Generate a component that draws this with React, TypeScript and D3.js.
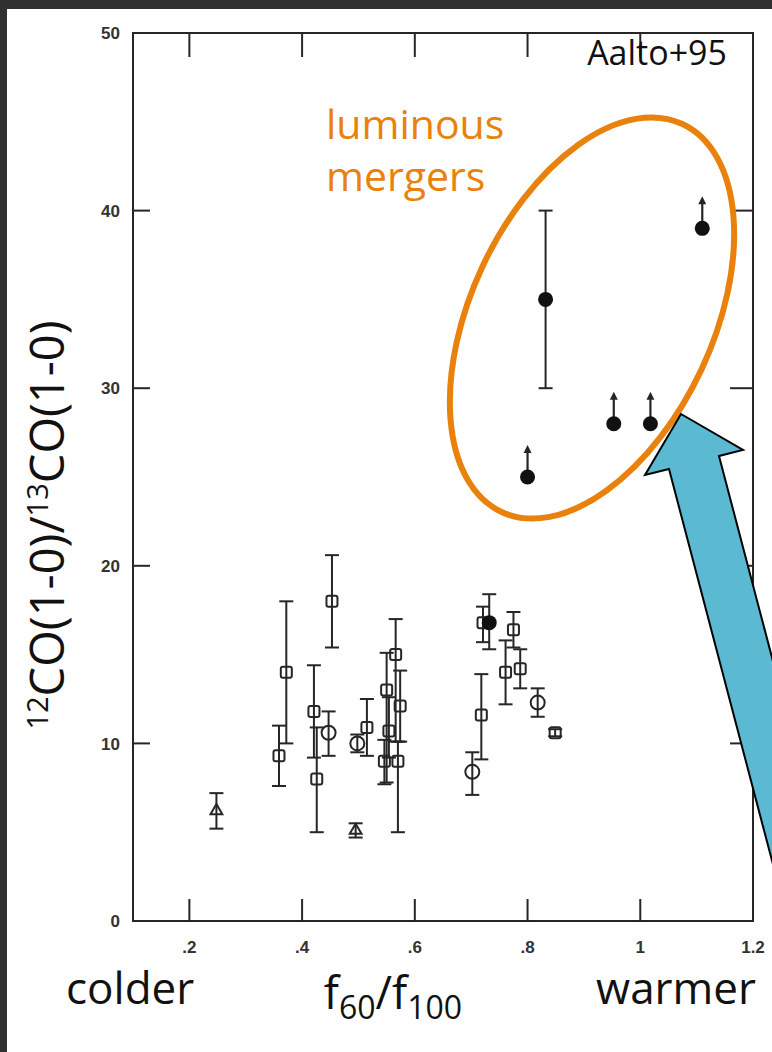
import React from "react";
import * as d3 from "d3";

// f60/f100 vs 12CO/13CO (Aalto+95)
const squareF = [0.359, 0.372, 0.421, 0.426, 0.453, 0.515, 0.55, 0.554, 0.546, 0.566, 0.574, 0.57, 0.718, 0.721, 0.761, 0.775, 0.787, 0.849];
const squareR = [9.3, 14.0, 11.8, 8.0, 18.0, 10.9, 13.0, 10.7, 9.0, 15.0, 12.1, 9.0, 11.6, 16.8, 14.0, 16.4, 14.2, 10.6];
const squareLo = [7.6, 10.0, 9.2, 5.0, 15.4, 9.3, 7.8, 9.2, 7.7, 10.1, 10.1, 5.0, 9.1, 15.7, 12.2, 15.4, 13.1, 10.4];
const squareHi = [11.0, 18.0, 14.4, 10.9, 20.6, 12.5, 15.1, 12.6, 10.2, 17.0, 14.1, 10.1, 13.9, 17.7, 15.8, 17.4, 15.3, 10.8];

const circleF = [0.447, 0.498, 0.702, 0.818];
const circleR = [10.6, 10.0, 8.4, 12.3];
const circleLo = [9.3, 9.5, 7.1, 11.5];
const circleHi = [11.8, 10.5, 9.5, 13.1];

const triF = [0.248, 0.495];
const triR = [6.2, 5.1];
const triLo = [5.2, 4.7];
const triHi = [7.2, 5.5];

const filledF = [0.732, 0.832];
const filledR = [16.8, 35.0];
const filledLo = [15.3, 30.0];
const filledHi = [18.4, 40.0];

const limitF = [0.8, 0.953, 1.018, 1.11];
const limitR = [25.0, 28.0, 28.0, 39.0];

const xTicks = [0.2, 0.4, 0.6, 0.8, 1.0];
const xTickLabels = [".2", ".4", ".6", ".8", "1", "1.2"];
const yTicks = [10, 20, 30, 40];
const yTickLabels = ["0", "10", "20", "30", "40", "50"];

const W = 772;
const H = 1052;
const ink = "#262626";
const orange = "#E8820C";
const blue = "#5BB9D2";
const font = "'Open Sans', 'DejaVu Sans', sans-serif";
const tickFont = "'Liberation Sans', Arial, sans-serif";

export default function App() {
  const x = d3.scaleLinear().domain([0.1, 1.2]).range([133, 753]);
  const y = d3.scaleLinear().domain([0, 50]).range([921, 33]);
  const [x0, x1] = x.range();
  const [y0, y1] = y.range();

  const errBar = (f: number, lo: number, hi: number, key: string) => (
    <g key={key} stroke={ink} strokeWidth={2}>
      <line x1={x(f)} x2={x(f)} y1={y(lo)} y2={y(hi)} />
      <line x1={x(f) - 7} x2={x(f) + 7} y1={y(lo)} y2={y(lo)} />
      <line x1={x(f) - 7} x2={x(f) + 7} y1={y(hi)} y2={y(hi)} />
    </g>
  );

  // big blue arrow pointing at the merger ellipse
  const tip: [number, number] = [681, 414];
  const slope = 0.263;
  const lTop: [number, number] = [669, 469];
  const rTop: [number, number] = [719, 456];
  const far = 1150;
  const arrow = [
    tip,
    [743, 450],
    rTop,
    [rTop[0] + (far - rTop[1]) * slope, far],
    [lTop[0] + (far - lTop[1]) * slope, far],
    lTop,
    [645, 475],
  ];

  return (
    <div style={{ position: "fixed", left: 0, top: 0 }}>
      <svg width={W} height={H} style={{ display: "block", background: "#fff" }}>
        <rect x={0} y={0} width={W} height={9} fill="#303030" />
        <rect x={0} y={0} width={7} height={H} fill="#303030" />

        {/* frame */}
        <rect x={x0} y={y1} width={x1 - x0} height={y0 - y1} fill="none" stroke={ink} strokeWidth={2} />
        {xTicks.map((t) => (
          <g key={"xt" + t} stroke={ink} strokeWidth={2}>
            <line x1={x(t)} x2={x(t)} y1={y0} y2={y0 - 22} />
            <line x1={x(t)} x2={x(t)} y1={y1} y2={y1 + 24} />
          </g>
        ))}
        {yTicks.map((t) => (
          <g key={"yt" + t} stroke={ink} strokeWidth={2}>
            <line x1={x0} x2={x0 + 17} y1={y(t)} y2={y(t)} />
            <line x1={x1} x2={x1 - 23} y1={y(t)} y2={y(t)} />
          </g>
        ))}
        {yTickLabels.map((s, i) => (
          <text key={"yl" + s} x={120} y={y(i * 10)} dy="0.36em" textAnchor="end"
            fontFamily={tickFont} fontWeight="bold" fontSize={17} fill="#333">
            {s}
          </text>
        ))}
        {xTickLabels.map((s, i) => (
          <text key={"xl" + s} x={x(0.2 + i * 0.2)} y={953} textAnchor="middle"
            fontFamily={tickFont} fontWeight="bold" fontSize={17} fill="#333">
            {s}
          </text>
        ))}

        {/* data */}
        {squareF.map((f, i) => (
          <g key={"sq" + i}>
            {errBar(f, squareLo[i], squareHi[i], "sqe" + i)}
            <rect x={x(f) - 5.5} y={y(squareR[i]) - 5.5} width={11} height={11} rx={2}
              fill="none" stroke={ink} strokeWidth={2} />
          </g>
        ))}
        {circleF.map((f, i) => (
          <g key={"ci" + i}>
            {errBar(f, circleLo[i], circleHi[i], "cie" + i)}
            <circle cx={x(f)} cy={y(circleR[i])} r={7} fill="none" stroke={ink} strokeWidth={2} />
          </g>
        ))}
        {triF.map((f, i) => (
          <g key={"tr" + i}>
            {errBar(f, triLo[i], triHi[i], "tre" + i)}
            <path d={d3.symbol(d3.symbolTriangle, 60)() || ""}
              transform={`translate(${x(f)},${y(triR[i])})`} fill="none" stroke={ink} strokeWidth={2} />
          </g>
        ))}
        {filledF.map((f, i) => (
          <g key={"fi" + i}>
            {errBar(f, filledLo[i], filledHi[i], "fie" + i)}
            <circle cx={x(f)} cy={y(filledR[i])} r={7.5} fill="#111" />
          </g>
        ))}
        {limitF.map((f, i) => (
          <g key={"li" + i}>
            <line x1={x(f)} x2={x(f)} y1={y(limitR[i])} y2={y(limitR[i]) - 26} stroke={ink} strokeWidth={2.2} />
            <path d={`M${x(f) - 4},${y(limitR[i]) - 24} L${x(f)},${y(limitR[i]) - 32} L${x(f) + 4},${y(limitR[i]) - 24} Z`} fill={ink} />
            <circle cx={x(f)} cy={y(limitR[i])} r={7.5} fill="#111" />
          </g>
        ))}

        <text x={727} y={65} textAnchor="end" fontFamily={font} fontSize={34} fill="#111">Aalto+95</text>

        {/* annotations */}
        <text x={326} y={139} fontFamily={font} fontSize={41} fill={orange}>luminous</text>
        <text x={326} y={191} fontFamily={font} fontSize={41} fill={orange}>mergers</text>
        <ellipse cx={592} cy={318} rx={214} ry={121} transform="rotate(-65 592 318)"
          fill="none" stroke={orange} strokeWidth={6} />
        <polygon points={arrow.map((p) => p.join(",")).join(" ")} fill={blue} stroke="#000" strokeWidth={2} strokeLinejoin="miter" />

        <text transform="translate(64,525) rotate(-90)" textAnchor="middle" fontFamily={font} fontSize={47} fill="#111">
          <tspan fontSize={29} dy={-16}>12</tspan>
          <tspan dy={16}>CO(1-0)/</tspan>
          <tspan fontSize={29} dy={-16}>13</tspan>
          <tspan dy={16}>CO(1-0)</tspan>
        </text>

        <text x={66} y={1004} fontFamily={font} fontSize={44} fill="#111">colder</text>
        <text x={756} y={1004} textAnchor="end" fontFamily={font} fontSize={44} fill="#111">warmer</text>
        <text x={393} y={1009} textAnchor="middle" fontFamily={font} fontSize={45} fill="#111">
          <tspan>f</tspan>
          <tspan fontSize={32} dy={10}>60</tspan>
          <tspan dy={-10}>/f</tspan>
          <tspan fontSize={32} dy={10}>100</tspan>
        </text>
      </svg>
    </div>
  );
}
